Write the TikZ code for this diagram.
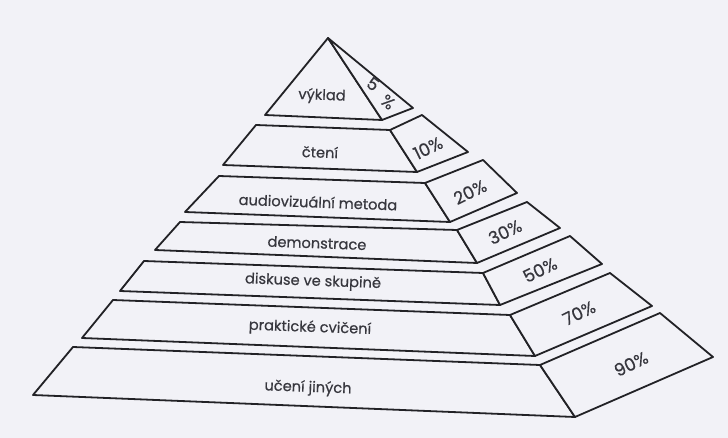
\documentclass[tikz,border=0pt]{standalone}
\usepackage{fontspec}
\setmainfont{Poppins}
\newfontfamily\lblfont{Poppins}[FakeBold=0.5]
\definecolor{bg}{RGB}{242,242,247}
\definecolor{ink}{RGB}{34,34,38}
\definecolor{txt}{RGB}{55,55,62}
\begin{document}
\begin{tikzpicture}[x=1pt,y=-1pt,
  face/.style={draw=ink,line width=1.8pt,line join=round,fill=bg},
  lbl/.style={text=txt,font=\lblfont\fontsize{14.6}{16}\selectfont,rotate=-2,inner sep=0pt},
  pct/.style={text=txt,font=\lblfont\fontsize{17.5}{19}\selectfont,rotate=26,inner sep=0pt},
  tip/.style={text=txt,font=\lblfont\fontsize{17}{19}\selectfont,inner sep=0pt}]
\fill[bg] (0,0) rectangle (728,438);
\useasboundingbox (0,0) rectangle (728,438);
% layer 7
\draw[face] (73,347) -- (540,365) -- (575,417) -- (33,395) -- cycle;
\draw[face] (540,365) -- (660,313) -- (713,357) -- (575,417) -- cycle;
% layer 6
\draw[face] (113,300) -- (510,315) -- (535,356) -- (82,338) -- cycle;
\draw[face] (510,315) -- (610,273) -- (652,306) -- (535,356) -- cycle;
% layer 5
\draw[face] (144,261) -- (483,273) -- (500,305) -- (120,291) -- cycle;
\draw[face] (483,273) -- (570,236) -- (602,264) -- (500,305) -- cycle;
% layer 4
\draw[face] (180,222) -- (457,230) -- (477,263) -- (155,250) -- cycle;
\draw[face] (457,230) -- (527,202) -- (560,228) -- (477,263) -- cycle;
% layer 3
\draw[face] (219,176) -- (425,183) -- (450,222) -- (185,212) -- cycle;
\draw[face] (425,183) -- (483,160) -- (517,193) -- (450,222) -- cycle;
% layer 2
\draw[face] (256,125) -- (390,130) -- (417,172) -- (223,165) -- cycle;
\draw[face] (390,130) -- (422,115) -- (468,152) -- (417,172) -- cycle;
% layer 1
\draw[face] (328,38) -- (382,120) -- (265,115) -- cycle;
\draw[face] (328,38) -- (413,108) -- (382,120) -- cycle;
% labels
\node[lbl] (t1) at (322,96) {výklad};
\node[lbl] (t2) at (320,152) {čtení};
\node[lbl] (t3) at (318,202) {audiovizuální metoda};
\node[lbl] (t4) at (317,243) {demonstrace};
\node[lbl] (t5) at (313,282) {diskuse ve skupině};
\node[lbl] (t6) at (310,328) {praktické cvičení};
\node[lbl] (t7) at (308,388) {učení jiných};
% percentages
\node[tip,rotate=-36] (p1a) at (373,84) {5};
\node[tip,rotate=-40] (p1b) at (388,102) {\%};
\node[pct] (p2) at (428,148) {10\%};
\node[pct] (p3) at (470,192) {20\%};
\node[pct] (p4) at (505,232) {30\%};
\node[pct] (p5) at (540,270) {50\%};
\node[pct] (p6) at (579,313) {70\%};
\node[pct] (p7) at (631,364) {90\%};
\end{tikzpicture}
\end{document}
